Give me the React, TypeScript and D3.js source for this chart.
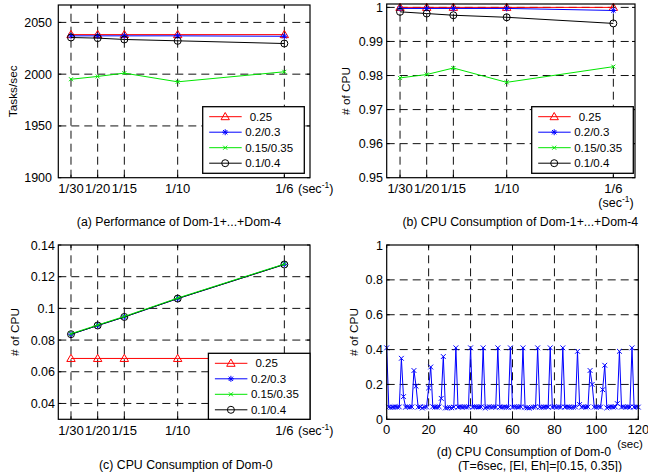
import React from 'react';
import * as d3 from 'd3';

const FONT = "Arial, 'Liberation Sans', Helvetica, sans-serif";

// ---------- data ----------
const xCategories = ['1/30', '1/20', '1/15', '1/10', '1/6'];
const xValues = [1 / 30, 1 / 20, 1 / 15, 1 / 10, 1 / 6];
const seriesNames = ['0.25', '0.2/0.3', '0.15/0.35', '0.1/0.4'];
const seriesColors = ['#ff0000', '#0000ff', '#00e600', '#000000'];
const seriesMarkers = ['tri', 'star', 'x', 'circle'];

// (a) Performance Tasks/sec
const perfA_025 = [2038.2, 2038.2, 2038.2, 2038.2, 2038.2];
const perfA_02 = [2037, 2037, 2037, 2037, 2036.6];
const perfA_015 = [1995.1, 1997.8, 2001, 1992.6, 2002.3];
const perfA_01 = [2035.4, 2034.8, 2033.5, 2032.2, 2029.6];

// (b) CPU consumption Dom-1..4
const cpuB_025 = [1.0, 1.0, 1.0, 1.0, 1.0];
const cpuB_02 = [0.9997, 0.9997, 0.9997, 0.9997, 0.9991];
const cpuB_015 = [0.9793, 0.9803, 0.9822, 0.978, 0.9826];
const cpuB_01 = [0.9987, 0.9982, 0.9977, 0.9971, 0.9953];

// (c) CPU consumption Dom-0
const cpuC_025 = [0.0684, 0.0684, 0.0684, 0.0684, 0.0684];
const cpuC_02 = [0.0837, 0.0892, 0.0946, 0.1062, 0.1278];
const cpuC_015 = [0.0840, 0.0895, 0.0949, 0.1065, 0.1280];
const cpuC_01 = [0.0837, 0.0892, 0.0946, 0.1062, 0.1277];

// (d) Dom-0 CPU over time, one sample per second (0..120 s)
const dom0Cpu = [
  0.41, 0.07, 0.068, 0.07, 0.072, 0.07, 0.071, 0.35, 0.13, 0.07,
  0.072, 0.07, 0.071, 0.28, 0.19, 0.07, 0.072, 0.065, 0.07, 0.071,
  0.18, 0.30, 0.072, 0.07, 0.069, 0.072, 0.12, 0.36, 0.065, 0.066,
  0.068, 0.066, 0.07, 0.41, 0.07, 0.072, 0.07, 0.071, 0.07, 0.072,
  0.41, 0.07, 0.072, 0.072, 0.07, 0.071, 0.41, 0.065, 0.07, 0.072,
  0.07, 0.071, 0.07, 0.41, 0.07, 0.069, 0.072, 0.07, 0.068, 0.41,
  0.07, 0.072, 0.071, 0.07, 0.072, 0.41, 0.068, 0.066, 0.065, 0.068,
  0.07, 0.072, 0.41, 0.07, 0.068, 0.07, 0.072, 0.07, 0.41, 0.07,
  0.072, 0.07, 0.071, 0.07, 0.41, 0.07, 0.072, 0.07, 0.068, 0.07,
  0.071, 0.39, 0.085, 0.07, 0.072, 0.07, 0.071, 0.28, 0.20, 0.07,
  0.07, 0.072, 0.07, 0.17, 0.31, 0.066, 0.07, 0.072, 0.07, 0.071,
  0.09, 0.39, 0.07, 0.072, 0.07, 0.071, 0.07, 0.41, 0.07, 0.072,
  0.07,
];

const yTicksA = [1900, 1950, 2000, 2050];
const yTicksB = [0.95, 0.96, 0.97, 0.98, 0.99, 1];
const yTickLabelsB = ['0.95', '0.96', '0.97', '0.98', '0.99', '1'];
const yTicksC = [0.04, 0.06, 0.08, 0.1, 0.12, 0.14];
const yTickLabelsC = ['0.04', '0.06', '0.08', '0.1', '0.12', '0.14'];
const xTicksD = [0, 20, 40, 60, 80, 100, 120];
const yTicksD = [0, 0.2, 0.4, 0.6, 0.8, 1];
const yTickLabelsD = ['0', '0.2', '0.4', '0.6', '0.8', '1'];

// ---------- helpers ----------
function Marker({ type, x, y, color, size }: { type: string; x: number; y: number; color: string; size?: number }) {
  if (type === 'tri')
    return <path d={`M${x},${y - 4.2}L${x + 4.2},${y + 3}L${x - 4.2},${y + 3}Z`} fill="none" stroke={color} strokeWidth={1} />;
  if (type === 'star')
    return (
      <path
        d={`M${x - 3},${y}H${x + 3}M${x},${y - 3}V${y + 3}M${x - 2.2},${y - 2.2}L${x + 2.2},${y + 2.2}M${x - 2.2},${y + 2.2}L${x + 2.2},${y - 2.2}`}
        stroke={color}
        strokeWidth={1}
      />
    );
  if (type === 'x') {
    const s = size || 2;
    return <path d={`M${x - s},${y - s}L${x + s},${y + s}M${x - s},${y + s}L${x + s},${y - s}`} stroke={color} strokeWidth={1} />;
  }
  return <circle cx={x} cy={y} r={3.5} fill="none" stroke={color} strokeWidth={1} />;
}

type SeriesDef = { xs: number[]; ys: number[]; color: string; marker: string; msize?: number };

interface AxesProps {
  x0: number; x1: number; y0: number; y1: number;
  xDomain: [number, number]; yDomain: [number, number];
  xTicks: number[]; xTickLabels: string[];
  yTicks: number[]; yTickLabels: string[];
  xLabelBase: number; yLabelRight: number;
  series: SeriesDef[];
}

function Axes(p: AxesProps) {
  const xs = d3.scaleLinear().domain(p.xDomain).range([p.x0, p.x1]);
  const ys = d3.scaleLinear().domain(p.yDomain).range([p.y1, p.y0]);
  const line = d3.line<[number, number]>().x((d) => xs(d[0])).y((d) => ys(d[1]));
  const tl = 3;
  const dash = '8,5';
  return (
    <g>
      {p.xTicks.map((t, i) => {
        const X = xs(t);
        if (Math.abs(X - p.x0) < 1 || Math.abs(X - p.x1) < 1) return null;
        return <line key={'gx' + i} x1={X} x2={X} y1={p.y1} y2={p.y0} stroke="#111" strokeWidth={1} strokeDasharray={dash} />;
      })}
      {p.yTicks.map((t, i) => {
        const Y = ys(t);
        if (Math.abs(Y - p.y0) < 1 || Math.abs(Y - p.y1) < 1) return null;
        return <line key={'gy' + i} x1={p.x0} x2={p.x1} y1={Y} y2={Y} stroke="#111" strokeWidth={1} strokeDasharray={dash} />;
      })}
      {p.series.map((s, i) => (
        <g key={'s' + i}>
          <path d={line(s.xs.map((x, j) => [x, s.ys[j]] as [number, number])) || ''} fill="none" stroke={s.color} strokeWidth={1} />
          {s.xs.map((x, j) => (
            <Marker key={j} type={s.marker} x={xs(x)} y={ys(s.ys[j])} color={s.color} size={s.msize} />
          ))}
        </g>
      ))}
      <rect x={p.x0} y={p.y0} width={p.x1 - p.x0} height={p.y1 - p.y0} fill="none" stroke="#000" strokeWidth={1.2} />
      {p.xTicks.map((t, i) => {
        const X = xs(t);
        return (
          <g key={'tx' + i}>
            <line x1={X} x2={X} y1={p.y1} y2={p.y1 - tl} stroke="#000" />
            <line x1={X} x2={X} y1={p.y0} y2={p.y0 + tl} stroke="#000" />
            <text x={X} y={p.xLabelBase} textAnchor="middle" fontSize={13} fontFamily={FONT}>
              {p.xTickLabels[i]}
            </text>
          </g>
        );
      })}
      {p.yTicks.map((t, i) => {
        const Y = ys(t);
        return (
          <g key={'ty' + i}>
            <line x1={p.x0} x2={p.x0 + tl} y1={Y} y2={Y} stroke="#000" />
            <line x1={p.x1} x2={p.x1 - tl} y1={Y} y2={Y} stroke="#000" />
            <text x={p.yLabelRight} y={Y} dy="0.36em" textAnchor="end" fontSize={12.5} fontFamily={FONT}>
              {p.yTickLabels[i]}
            </text>
          </g>
        );
      })}
    </g>
  );
}

function Legend({ left, top, w, h }: { left: number; top: number; w: number; h: number }) {
  return (
    <g>
      <rect x={left} y={top} width={w} height={h} fill="#fff" stroke="#000" strokeWidth={1.3} />
      {seriesNames.map((n, i) => {
        const y = top + 10 + i * 15.5;
        return (
          <g key={n}>
            <line x1={left + 6.5} x2={left + 39} y1={y} y2={y} stroke={seriesColors[i]} strokeWidth={1} />
            <Marker type={seriesMarkers[i]} x={left + 22.5} y={y} color={seriesColors[i]} />
            <text x={left + (i === 0 ? 47 : 42.5)} y={y} dy="0.36em" fontSize={11.5} fontFamily={FONT}>
              {n}
            </text>
          </g>
        );
      })}
    </g>
  );
}

function mk(vals: number[][], order: number[] = [0, 1, 2, 3]): SeriesDef[] {
  return order.map((i) => ({ xs: xValues, ys: vals[i], color: seriesColors[i], marker: seriesMarkers[i] }));
}

function YLabel({ x, y, text }: { x: number; y: number; text: string }) {
  return (
    <text transform={`translate(${x},${y}) rotate(-90)`} textAnchor="middle" fontSize={11.8} fontFamily={FONT}>
      {text}
    </text>
  );
}

function SecInv({ x, y, anchor }: { x: number; y: number; anchor?: string }) {
  return (
    <text x={x} y={y} fontSize={12.5} fontFamily={FONT} textAnchor={anchor || 'start'}>
      (sec
      <tspan fontSize={8.5} dy={-5}>-1</tspan>
      <tspan dy={5}>)</tspan>
    </text>
  );
}

function Caption({ x, y, text }: { x: number; y: number; text: string }) {
  return (
    <text x={x} y={y} textAnchor="middle" fontSize={12.3} fontFamily={FONT}>
      {text}
    </text>
  );
}

export default function App() {
  const dTimes = dom0Cpu.map((_, i) => i);
  return (
    <svg width={648} height={472} style={{ position: 'absolute', left: 0, top: 0, background: '#fff' }}>
      <rect width={648} height={472} fill="#fff" />
      {/* (a) */}
      <Axes
        x0={58.3} x1={310} y0={5} y1={177.7}
        xDomain={[0.0254, 0.1827]} yDomain={[1900, 2066.8]}
        xTicks={xValues} xTickLabels={xCategories}
        yTicks={yTicksA} yTickLabels={yTicksA.map(String)}
        xLabelBase={192.5} yLabelRight={52}
        series={mk([perfA_025, perfA_02, perfA_015, perfA_01])}
      />
      <Legend left={202.7} top={106.7} w={101.6} h={66.6} />
      <YLabel x={16.5} y={91.3} text="Tasks/sec" />
      <SecInv x={298} y={192.5} />
      <Caption x={179} y={225.5} text="(a) Performance of Dom-1+...+Dom-4" />

      {/* (b) */}
      <Axes
        x0={386.7} x1={635} y0={4} y1={177.7}
        xDomain={[0.025, 0.1802]} yDomain={[0.95, 1.001]}
        xTicks={xValues} xTickLabels={xCategories}
        yTicks={yTicksB} yTickLabels={yTickLabelsB}
        xLabelBase={192.5} yLabelRight={383}
        series={mk([cpuB_025, cpuB_02, cpuB_015, cpuB_01])}
      />
      <Legend left={531.7} top={106.7} w={101.6} h={66.6} />
      <YLabel x={350} y={91} text="# of CPU" />
      <SecInv x={616} y={206.5} anchor="middle" />
      <Caption x={520.3} y={225.5} text="(b) CPU Consumption of Dom-1+...+Dom-4" />

      {/* (c) */}
      <Axes
        x0={58.3} x1={310} y0={245} y1={419.3}
        xDomain={[0.0254, 0.1827]} yDomain={[0.03, 0.14]}
        xTicks={xValues} xTickLabels={xCategories}
        yTicks={yTicksC} yTickLabels={yTickLabelsC}
        xLabelBase={434.5} yLabelRight={55}
        series={mk([cpuC_025, cpuC_02, cpuC_015, cpuC_01], [0, 1, 3, 2])}
      />
      <Legend left={208.4} top={353.3} w={101.6} h={66} />
      <YLabel x={19} y={332} text="# of CPU" />
      <SecInv x={298} y={434.5} />
      <Caption x={185.8} y={469} text="(c) CPU Consumption of Dom-0" />

      {/* (d) */}
      <Axes
        x0={386.7} x1={638.3} y0={245} y1={419.3}
        xDomain={[0, 120]} yDomain={[0, 1]}
        xTicks={xTicksD} xTickLabels={xTicksD.map(String)}
        yTicks={yTicksD} yTickLabels={yTickLabelsD}
        xLabelBase={434} yLabelRight={383}
        series={[{ xs: dTimes, ys: dom0Cpu, color: '#0000ff', marker: 'x', msize: 2.4 }]}
      />
      <YLabel x={358} y={332} text="# of CPU" />
      <text x={630} y={447.5} textAnchor="middle" fontSize={11.5} fontFamily={FONT}>(sec)</text>
      <Caption x={524} y={456} text="(d) CPU Consumption of Dom-0" />
      <Caption x={540} y={469.5} text="(T=6sec, [El, Eh]=[0.15, 0.35])" />
    </svg>
  );
}
